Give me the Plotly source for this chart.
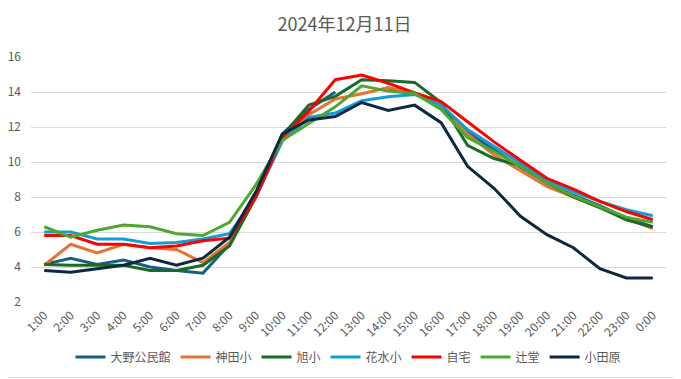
import plotly.graph_objects as go

times = ["1:00", "2:00", "3:00", "4:00", "5:00", "6:00", "7:00", "8:00", "9:00", "10:00",
         "11:00", "12:00", "13:00", "14:00", "15:00", "16:00", "17:00", "18:00", "19:00",
         "20:00", "21:00", "22:00", "23:00", "0:00"]

oono = [4.15, 4.5, 4.15, 4.4, 4.0, 3.8, 3.65, 5.3, 8.2, 11.6, 13.0, 14.0, None, 14.1, 13.95,
        13.1, 11.7, 10.7, 9.7, 8.8, 8.1, 7.5, 6.8, 6.3]
kanda = [4.1, 5.3, 4.8, 5.3, 5.1, 5.0, 4.25, 5.4, 8.1, 11.4, 12.7, 13.6, 13.9, 14.25, 13.9,
         13.1, 11.6, 10.4, 9.5, 8.6, 8.0, 7.4, 6.8, 6.2]
asahi = [4.15, 4.1, 4.1, 4.1, 3.8, 3.8, 4.1, 5.2, 8.0, 11.5, 13.25, 13.75, 14.7, 14.65, 14.55,
         13.4, 10.95, 10.2, 9.8, 8.8, 8.0, 7.4, 6.7, 6.28]
hanamizu = [6.0, 6.0, 5.6, 5.6, 5.35, 5.4, 5.6, 5.9, 8.0, 11.2, 12.55, 12.8, 13.5, 13.73, 13.86,
            13.25, 11.85, 10.9, 9.9, 8.97, 8.3, 7.75, 7.27, 6.93]
jitaku = [5.8, 5.8, 5.3, 5.3, 5.1, 5.2, 5.5, 5.65, 8.0, 11.4, 12.9, 14.7, 14.97, 14.5, 13.95,
          13.45, 12.3, 11.15, 10.1, 9.07, 8.45, 7.75, 7.17, 6.7]
tsujido = [6.3, 5.7, 6.1, 6.4, 6.3, 5.9, 5.8, 6.55, 8.7, 11.25, 12.2, 13.15, 14.35, 14.05, 13.92,
           13.0, 11.4, 10.6, 9.74, 8.8, 8.05, 7.45, 6.85, 6.55]
odawara = [3.8, 3.7, 3.9, 4.1, 4.5, 4.1, 4.5, 5.7, 8.3, 11.6, 12.4, 12.6, 13.4, 12.95, 13.25,
           12.25, 9.75, 8.5, 6.9, 5.85, 5.1, 3.9, 3.37, 3.37]

series = [
    ("大野公民館", oono, "#156082"),
    ("神田小", kanda, "#E97132"),
    ("旭小", asahi, "#196B24"),
    ("花水小", hanamizu, "#0F9ED5"),
    ("自宅", jitaku, "#FF0000"),
    ("辻堂", tsujido, "#4EA72E"),
    ("小田原", odawara, "#0E2841"),
]

fig = go.Figure()
for name, vals, color in series:
    fig.add_trace(go.Scatter(x=times, y=vals, name=name, mode="lines",
                             line=dict(color=color, width=3), connectgaps=False))

font_family = "Noto Sans CJK JP, Noto Sans, sans-serif"
# the page body has an 8px margin, so the figure is placed at (8, 8)
OFF = 8
W, H = 681 - OFF, 379 - OFF
L, R, T, B = 31 - OFF, 15, 57 - OFF, 77
pw, ph = W - L - R, H - T - B

fig.update_layout(
    width=W, height=H,
    margin=dict(l=L, r=R, t=T, b=B, autoexpand=False),
    paper_bgcolor="white", plot_bgcolor="white",
    font=dict(family=font_family, color="#595959", size=12),
    title=dict(text="2024年12月11日", x=0.5, xanchor="center", y=1 - (25 - OFF) / H,
               yanchor="middle", font=dict(size=18, color="#595959", family=font_family)),
    showlegend=True,
    legend=dict(orientation="h", x=0.5, xanchor="center", y=-(357 - 302) / ph, yanchor="middle",
                font=dict(size=12, color="#595959"), itemwidth=30, tracegroupgap=0,
                bgcolor="rgba(0,0,0,0)"),
    xaxis=dict(type="category", range=[-0.5, len(times) - 0.5], showgrid=False, zeroline=False,
               showline=False, ticks="", tickangle=-45, automargin=False, ticklabelstandoff=3,
               tickfont=dict(size=12, color="#595959")),
    yaxis=dict(range=[2, 16], dtick=2, tick0=2, showgrid=True, gridcolor="#D9D9D9", gridwidth=1,
               zeroline=False, showline=False, ticks="", automargin=False, ticklabelstandoff=9,
               tickfont=dict(size=12, color="#595959")),
    shapes=[dict(type="rect", xref="paper", yref="paper",
                 x0=(-OFF - 10 - L) / pw, x1=(W - 1.5 - L) / pw,
                 y0=(H - B - (H - 1.5)) / ph, y1=(H - B + OFF + 10) / ph,
                 line=dict(color="#D9D9D9", width=1), fillcolor="rgba(0,0,0,0)", layer="below")],
)

fig.write_html("out.html")
